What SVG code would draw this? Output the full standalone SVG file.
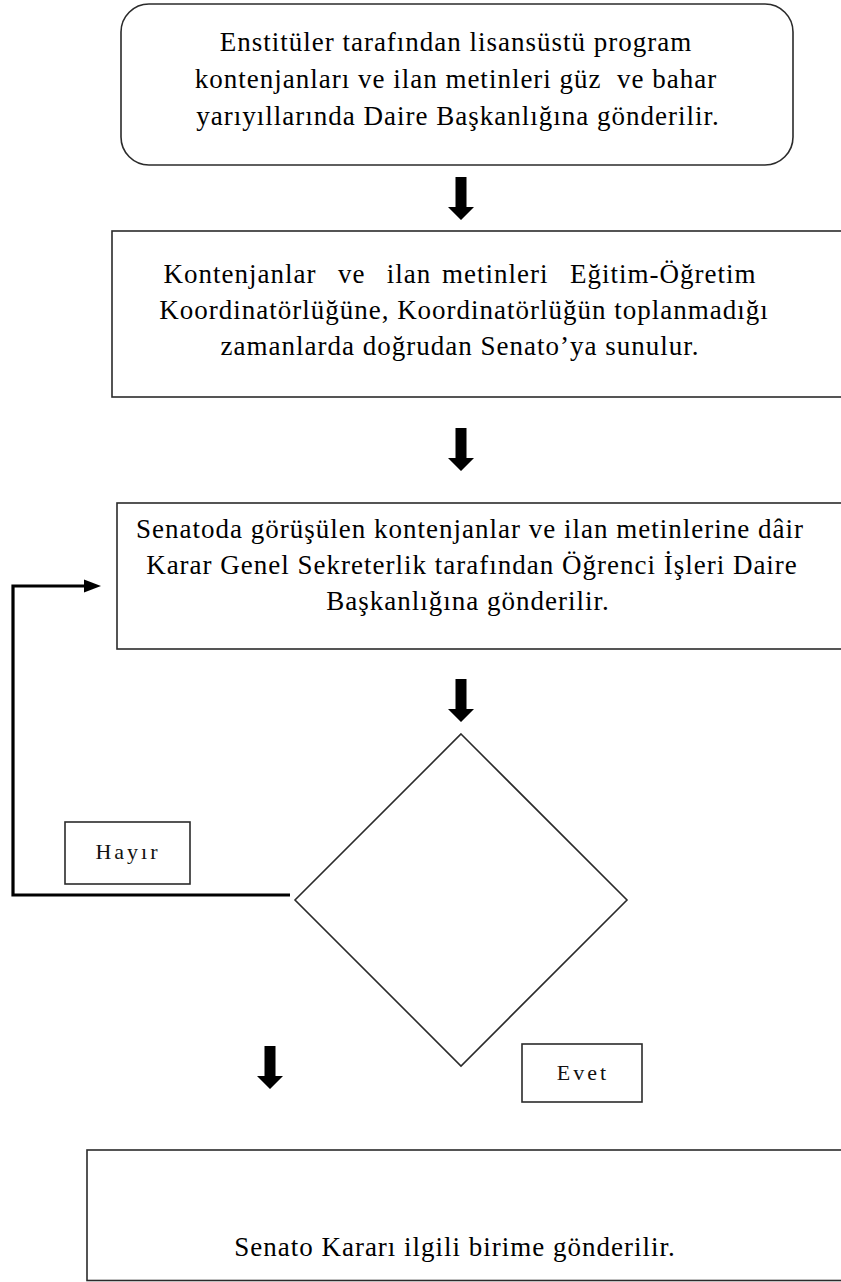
<svg xmlns="http://www.w3.org/2000/svg" width="841" height="1282" viewBox="0 0 841 1282">
  <style>
    .box { fill: #ffffff; stroke: #2b2b2b; stroke-width: 1.6; }
    .txt { font-family: "Liberation Serif", "Times New Roman", serif; font-size: 27px; letter-spacing: 1px; fill: #000000; text-anchor: middle; }
    .wide { word-spacing: 3px; }
    .lbl { font-family: "Liberation Serif", "Times New Roman", serif; font-size: 22px; letter-spacing: 3px; fill: #111111; text-anchor: middle; }
    .flow { fill: none; stroke: #000000; stroke-width: 3.2; }
    .block { fill: #000000; }
  </style>
  <defs>
    <!-- thick block arrow pointing down, tip at (0,43) -->
    <path id="down" d="M-5.5,0 H5.5 V30 H13 L0,43 L-13,30 H-5.5 z"/>
  </defs>

  <rect width="841" height="1282" fill="#ffffff"/>

  <g id="connectors">
    <use href="#down" class="block" x="461" y="177"/>
    <use href="#down" class="block" x="461" y="428"/>
    <use href="#down" class="block" x="461" y="679"/>
    <use href="#down" class="block" x="270" y="1046"/>
    <!-- "no" branch loops back to the Senate step -->
    <polyline class="flow" points="290,895 13,895 13,586 86,586"/>
    <polygon class="block" points="84,579.5 101,586 84,592.5"/>
  </g>

  <g id="step1">
    <rect class="box" x="121" y="4" width="672" height="161" rx="28" ry="28"/>
    <text class="txt" x="456" y="51">Enstitüler tarafından lisansüstü program</text>
    <text class="txt" x="456" y="88" xml:space="preserve">kontenjanları ve ilan metinleri güz  ve bahar</text>
    <text class="txt" x="458" y="125">yarıyıllarında Daire Başkanlığına gönderilir.</text>
  </g>

  <g id="step2">
    <rect class="box" x="112" y="231" width="760" height="166"/>
    <text class="txt wide" x="460" y="283" xml:space="preserve">Kontenjanlar  ve  ilan metinleri  Eğitim-Öğretim</text>
    <text class="txt" x="464" y="319">Koordinatörlüğüne, Koordinatörlüğün toplanmadığı</text>
    <text class="txt" x="460" y="355">zamanlarda doğrudan Senato’ya sunulur.</text>
  </g>

  <g id="step3">
    <rect class="box" x="117" y="503" width="760" height="146"/>
    <text class="txt" x="470" y="538">Senatoda görüşülen kontenjanlar ve ilan metinlerine dâir</text>
    <text class="txt" x="472" y="574">Karar Genel Sekreterlik tarafından Öğrenci İşleri Daire</text>
    <text class="txt" x="468" y="610">Başkanlığına gönderilir.</text>
  </g>

  <g id="decision">
    <polygon class="box" points="461,734 627,900 461,1066 295,900"/>
  </g>

  <g id="label-no">
    <rect class="box" x="65" y="822" width="125" height="62"/>
    <text class="lbl" x="128" y="859">Hayır</text>
  </g>

  <g id="label-yes">
    <rect class="box" x="522" y="1044" width="120" height="58"/>
    <text class="lbl" x="583" y="1080">Evet</text>
  </g>

  <g id="step4">
    <rect class="box" x="87" y="1150" width="790" height="130.5"/>
    <text class="txt" x="455" y="1256">Senato Kararı ilgili birime gönderilir.</text>
  </g>
</svg>
